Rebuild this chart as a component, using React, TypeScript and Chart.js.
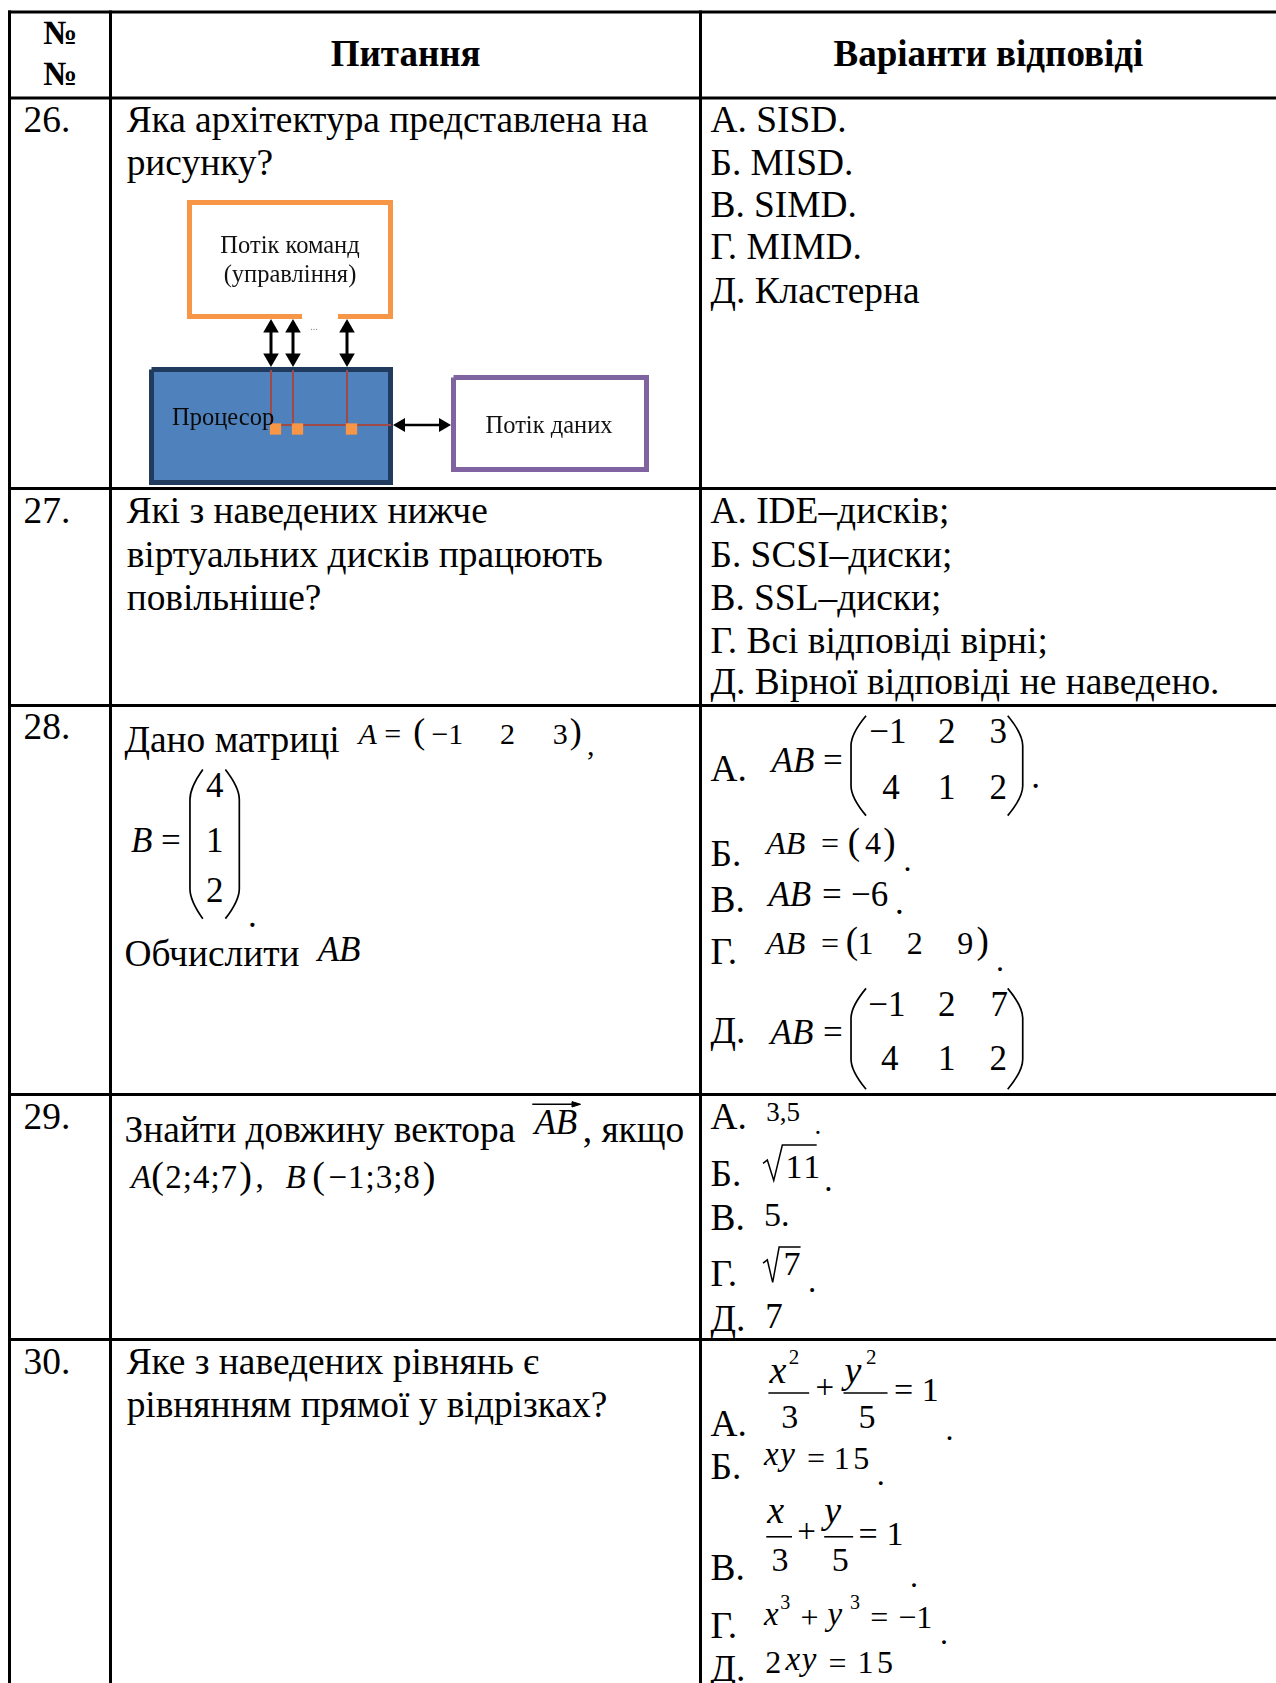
import React, { useEffect, useRef } from "react";
import { Chart, registerables } from "chart.js";
Chart.register(...registerables);

const K = 1276 / 1189;
const FONT = "'Liberation Serif', 'Times New Roman', serif";
const FS = 37.4;

// ---------- data ----------
const headerNo = ["№", "№"];
const headerCols = ["Питання", "Варіанти відповіді"];
const rowNumbers = ["26.", "27.", "28.", "29.", "30."];
const optionLetters = ["А.", "Б.", "В.", "Г.", "Д."];
const q26Question = ["Яка архітектура представлена на", "рисунку?"];
const q26Answers = ["SISD.", "MISD.", "SIMD.", "MIMD.", "Кластерна"];
const q27Question = ["Які з наведених нижче", "віртуальних дисків працюють", "повільніше?"];
const q27Answers = ["IDE–дисків;", "SCSI–диски;", "SSL–диски;", "Всі відповіді вірні;", "Вірної відповіді не наведено."];
const q28Question = ["Дано матриці", "Обчислити"];
const matrixA = [-1, 2, 3];
const matrixB = [4, 1, 2];
const q28AnswerA = [[-1, 2, 3], [4, 1, 2]];
const q28AnswerB = [4];
const q28AnswerC = [-6];
const q28AnswerD = [1, 2, 9];
const q28AnswerE = [[-1, 2, 7], [4, 1, 2]];
const q29Question = ["Знайти довжину вектора", ", якщо"];
const pointA = [2, 4, 7];
const pointB = [-1, 3, 8];
const q29Answers = ["3,5", "11", "5", "7", "7"];
const q30Question = ["Яке з наведених рівнянь є", "рівнянням прямої у відрізках?"];
const q30Denominators = [3, 5];
const q30Powers = [2, 3];
const q30AnswerB = 15;
const q30AnswerD = -1;
const q30AnswerE = 15;
const diagramLabels = ["Потік команд", "(управління)", "Процесор", "Потік даних", "..."];

const fmt = (n: number) => (n < 0 ? "−" + Math.abs(n) : String(n));

function T({ x, y, s = FS, i = false, b = false, c = false, ls = 0, children }: any) {
  return (
    <span
      style={{
        position: "absolute",
        left: x * K,
        top: y * K - s * 0.62,
        fontSize: s,
        lineHeight: 1.15,
        fontFamily: FONT,
        fontStyle: i ? "italic" : "normal",
        fontWeight: b ? 700 : 400,
        whiteSpace: "pre",
        letterSpacing: ls,
        transform: c ? "translateX(-50%)" : undefined,
        color: "#000",
      }}
    >
      {children}
    </span>
  );
}

function Diagram() {
  const ref = useRef<HTMLCanvasElement>(null);
  useEffect(() => {
    if (!ref.current) return;
    const W = 540, H = 300;
    const orange = "#F79646", blue = "#4F81BD", navy = "#203B5E", purple = "#8064A2", bus = "#A04A48";
    const rect = (x1: number, y1: number, x2: number, y2: number) => [
      { x: x1, y: y1 }, { x: x2, y: y1 }, { x: x2, y: y2 }, { x: x1, y: y2 }, { x: x1, y: y1 },
    ];
    const busX = [141, 163, 217];
    const base = { pointRadius: 0, fill: false, clip: false, tension: 0 };
    const datasets: any[] = [];
    datasets.push({ ...base, data: rect(21.5, 179.5, 260.5, 292.5), fill: "shape", backgroundColor: blue, borderColor: navy, borderWidth: 5, order: 10 });
    datasets.push({ ...base, data: [{ x: 208, y: 126.5 }, { x: 260.5, y: 126.5 }, { x: 260.5, y: 12.5 }, { x: 59.5, y: 12.5 }, { x: 59.5, y: 126.5 }, { x: 172, y: 126.5 }], borderColor: orange, borderWidth: 5, order: 9 });
    datasets.push({ ...base, data: rect(323.5, 187.5, 516.5, 279.5), borderColor: purple, borderWidth: 5, order: 9 });
    busX.forEach((bx) => datasets.push({ ...base, data: [{ x: bx, y: 180 }, { x: bx, y: 235 }], borderColor: bus, borderWidth: 2, order: 6 }));
    datasets.push({ ...base, data: [{ x: busX[0], y: 235 }, { x: 261, y: 235 }], borderColor: bus, borderWidth: 2, order: 6 });
    datasets.push({ ...base, data: busX.map((bx) => ({ x: bx + 4.5, y: 239 })), showLine: false, pointStyle: "rect", pointRadius: 8, pointBackgroundColor: orange, pointBorderColor: orange, pointBorderWidth: 0, order: 4 });
    busX.forEach((bx) => datasets.push({ ...base, data: [{ x: bx, y: 133 }, { x: bx, y: 173 }], borderColor: "#000", borderWidth: 3, order: 2 }));
    datasets.push({ ...base, data: [{ x: 268, y: 235 }, { x: 316, y: 235 }], borderColor: "#000", borderWidth: 2.5, order: 2 });
    const heads: any[] = [];
    busX.forEach((bx) => { heads.push({ x: bx, y: 138, r: 0, s: 9 }); heads.push({ x: bx, y: 168, r: 180, s: 9 }); });
    heads.push({ x: 271, y: 235, r: 270, s: 8 });
    heads.push({ x: 313, y: 235, r: 90, s: 8 });
    datasets.push({ ...base, data: heads.map((h) => ({ x: h.x, y: h.y })), showLine: false, pointStyle: "triangle", pointRotation: heads.map((h) => h.r), pointRadius: heads.map((h) => h.s), pointBackgroundColor: "#000", pointBorderColor: "#000", pointBorderWidth: 0, order: 1 });

    const labels = [
      { text: diagramLabels[0], x: 160, y: 57, size: 24.5, align: "center", color: "#111" },
      { text: diagramLabels[1], x: 160, y: 86, size: 24.5, align: "center", color: "#111" },
      { text: diagramLabels[2], x: 42, y: 229, size: 24.5, align: "left", color: "#0a0a0a" },
      { text: diagramLabels[3], x: 419, y: 237, size: 24.5, align: "center", color: "#111" },
      { text: diagramLabels[4], x: 184, y: 137, size: 10, align: "center", color: "#888" },
    ];
    const labelPlugin = {
      id: "diagramLabels",
      afterDatasetsDraw(chart: any) {
        const { ctx, scales } = chart;
        ctx.save();
        labels.forEach((l) => {
          ctx.font = `${l.size}px ${FONT}`;
          ctx.fillStyle = l.color;
          ctx.textAlign = l.align;
          ctx.textBaseline = "middle";
          ctx.fillText(l.text, scales.x.getPixelForValue(l.x), scales.y.getPixelForValue(l.y));
        });
        ctx.restore();
      },
    };

    const chart = new Chart(ref.current, {
      type: "line",
      data: { datasets },
      options: {
        responsive: false,
        animation: false,
        devicePixelRatio: 1,
        events: [],
        layout: { padding: 0, autoPadding: false },
        plugins: { legend: { display: false }, tooltip: { enabled: false } },
        scales: {
          x: { type: "linear", min: 0, max: W, display: false },
          y: { type: "linear", min: 0, max: H, reverse: true, display: false },
        },
      } as any,
      plugins: [labelPlugin as any],
    });
    return () => chart.destroy();
  }, []);
  return (
    <canvas ref={ref} width={540} height={300} style={{ position: "absolute", left: 130, top: 190, width: 540, height: 300 }} />
  );
}

export default function App() {
  let key = 0;
  const els: any[] = [];
  const t = (x: number, y: number, text: any, s: number = FS, o: any = {}) => {
    els.push(<T key={key++} x={x} y={y} s={s} {...o}>{text}</T>);
  };
  const paths: any[] = [];
  const pth = (d: string, w = 1.6, fill = "none") => paths.push(<path key={key++} d={d} stroke="#000" strokeWidth={w} fill={fill} />);
  const paren = (x1: number, x2: number, y1: number, y2: number, right = false) => {
    const X1 = x1 * K, X2 = x2 * K, Y1 = y1 * K, Y2 = y2 * K;
    const h = Y2 - Y1, c = Math.min(h * 0.3, 30);
    const outer = right ? X2 : X1, inner = right ? X1 : X2;
    pth(`M ${inner} ${Y1} Q ${outer} ${Y1 + c * 0.6} ${outer} ${Y1 + c} L ${outer} ${Y2 - c} Q ${outer} ${Y2 - c * 0.6} ${inner} ${Y2}`, 1.7);
  };
  const poly = (pts: number[][], w = 1.6) => pth("M " + pts.map((q) => `${q[0] * K} ${q[1] * K}`).join(" L "), w);
  const bar = (x1: number, x2: number, y: number) => poly([[x1, y], [x2, y]], 1.6);

  // header
  t(56, 32, headerNo[0], 34, { b: true, c: true });
  t(56, 70, headerNo[1], 34, { b: true, c: true });
  t(378, 52, headerCols[0], 37, { b: true, c: true });
  t(921, 52, headerCols[1], 37, { b: true, c: true });

  // row numbers
  [113, 477, 679, 1042, 1270].forEach((y, i) => t(22, y, rowNumbers[i]));

  // Q26
  q26Question.forEach((s, i) => t(118, 113 + i * 40, s));
  [113, 153, 192, 231, 272].forEach((y, i) => t(662, y, `${optionLetters[i]} ${q26Answers[i]}`));

  // Q27
  [477, 518, 558].forEach((y, i) => t(118, y, q27Question[i]));
  [477, 518, 558, 598, 637].forEach((y, i) => t(662, y, `${optionLetters[i]} ${q27Answers[i]}`));

  // Q28 question
  t(116, 691, q28Question[0]);
  t(334, 685, "A", 30, { i: true });
  t(358, 685, "=", 30);
  t(385, 683, "(", 36);
  [402, 466, 515].forEach((x, i) => t(x, 685, fmt(matrixA[i]), 30));
  t(531, 683, ")", 36);
  t(547, 696, ",", 30);
  t(122, 785, "B", 35, { i: true });
  t(150, 785, "=", 35);
  paren(177, 189, 717, 856);
  [734, 785, 832].forEach((y, i) => t(200, y, fmt(matrixB[i]), 35, { c: true }));
  paren(210, 223, 717, 856, true);
  t(231, 855, ".", 35);
  t(116, 890, q28Question[1]);
  t(296, 887, "AB", 35, { i: true });

  // Q28 answers
  [718, 797, 840, 888, 962].forEach((y, i) => t(662, y, optionLetters[i]));
  // A
  t(719, 711, "AB", 35, { i: true });
  t(767, 711, "=", 35);
  paren(793, 807, 667, 760);
  [[810, 874, 922], [822, 874, 922]].forEach((xs, r) => xs.forEach((x, c) => t(x, r === 0 ? 684 : 736, fmt(q28AnswerA[r][c]), 35)));
  paren(939, 953, 667, 760, true);
  t(961, 726, ".", 35);
  // Б
  t(714, 787, "AB", 32, { i: true });
  t(765, 787, "=", 32);
  t(790, 786, "(", 37);
  t(806, 787, fmt(q28AnswerB[0]), 32);
  t(823, 786, ")", 37);
  t(842, 803, ".", 32);
  // В
  t(716, 836, "AB", 35, { i: true });
  t(766, 836, "=", 35);
  t(793, 836, fmt(q28AnswerC[0]), 35);
  t(834, 843, ".", 35);
  // Г
  t(714, 880, "AB", 32, { i: true });
  t(765, 880, "=", 32);
  t(788, 879, "(", 37);
  [799, 845, 892].forEach((x, i) => t(x, 880, fmt(q28AnswerD[i]), 32));
  t(910, 879, ")", 37);
  t(928, 896, ".", 32);
  // Д
  t(718, 964, "AB", 35, { i: true });
  t(767, 964, "=", 35);
  paren(793, 807, 921, 1015);
  [[809, 874, 923], [821, 874, 922]].forEach((xs, r) => xs.forEach((x, c) => t(x, r === 0 ? 938 : 988, fmt(q28AnswerE[r][c]), 35)));
  paren(939, 953, 921, 1015, true);

  // Q29 question
  t(116, 1054, q29Question[0]);
  t(498, 1048, "AB", 35, { i: true });
  poly([[496, 1029], [539, 1029]], 1.4);
  pth(`M ${541 * K} ${1029 * K} L ${533 * K} ${1026.5 * K} L ${533 * K} ${1031.5 * K} Z`, 1, "#000");
  t(543, 1054, q29Question[1]);
  t(122, 1099, "A", 33, { i: true });
  t(141, 1097, "(", 38);
  t(154, 1099, pointA.map(fmt).join(";"), 33, { ls: 1 });
  t(223, 1097, ")", 38);
  t(238, 1099, ",", 33);
  t(266, 1099, "B", 33, { i: true });
  t(291, 1097, "(", 38);
  t(306, 1099, pointB.map(fmt).join(";"), 33, { ls: 1 });
  t(394, 1097, ")", 38);

  // Q29 answers
  [1042, 1095, 1136, 1188, 1230].forEach((y, i) => t(662, y, optionLetters[i]));
  t(714, 1038, q29Answers[0], 27);
  t(759, 1050, ".", 27);
  poly([[711, 1084], [715, 1081], [721, 1100], [729, 1067], [761, 1067]], 1.5);
  t(732, 1088, q29Answers[1], 34, { ls: 2 });
  t(768, 1102, ".", 33);
  t(712, 1133, q29Answers[2] + ".", 34);
  poly([[711, 1177], [715, 1174], [720, 1195], [726, 1162], [746, 1162]], 1.5);
  t(730, 1179, q29Answers[3], 34);
  t(753, 1196, ".", 33);
  t(713, 1229, q29Answers[4], 35);

  // Q30 question
  [1270, 1310].forEach((y, i) => t(118, y, q30Question[i]));

  // Q30 answers
  [1328, 1368, 1462, 1516, 1556].forEach((y, i) => t(662, y, optionLetters[i]));
  // A
  t(717, 1279, "x", 38, { i: true });
  t(735, 1265, String(q30Powers[0]), 21);
  bar(716, 754, 1298);
  t(728, 1321, String(q30Denominators[0]), 34);
  t(760, 1295, "+", 33);
  t(787, 1279, "y", 38, { i: true });
  t(807, 1265, String(q30Powers[0]), 21);
  bar(786, 827, 1298);
  t(800, 1321, String(q30Denominators[1]), 34);
  t(833, 1296, "=", 34);
  t(859, 1296, "1", 34);
  t(881, 1333, ".", 32);
  // Б
  t(712, 1357, "x", 33, { i: true });
  t(727, 1357, "y", 33, { i: true });
  t(752, 1360, "=", 32);
  t(777, 1360, String(q30AnswerB), 32, { ls: 3.5 });
  t(817, 1375, ".", 32);
  // В
  t(715, 1409, "x", 38, { i: true });
  bar(714, 738, 1432);
  t(719, 1455, String(q30Denominators[0]), 34);
  t(743, 1429, "+", 33);
  t(768, 1409, "y", 38, { i: true });
  bar(768, 795, 1432);
  t(775, 1455, String(q30Denominators[1]), 34);
  t(800, 1430, "=", 34);
  t(826, 1430, "1", 34);
  t(848, 1470, ".", 32);
  // Г
  t(712, 1506, "x", 33, { i: true });
  t(727, 1494, String(q30Powers[1]), 20);
  t(746, 1508, "+", 32);
  t(771, 1506, "y", 33, { i: true });
  t(792, 1494, String(q30Powers[1]), 20);
  t(811, 1508, "=", 32);
  t(837, 1508, fmt(q30AnswerD), 32);
  t(876, 1523, ".", 32);
  // Д
  t(713, 1550, "2", 32);
  t(732, 1548, "x", 33, { i: true });
  t(747, 1548, "y", 33, { i: true });
  t(772, 1551, "=", 32);
  t(799, 1550, String(q30AnswerE), 32, { ls: 3.5 });

  // table lines (full coords)
  const L = 3;
  const hy = [12, 98, 488.5, 705.5, 1094.5, 1339.5];
  const vx = [9.5, 110.5, 700.5];
  const rects: any[] = [];
  hy.forEach((y) => rects.push(<rect key={key++} x={8} y={y - L / 2} width={1276} height={L} fill="#000" />));
  vx.forEach((x) => rects.push(<rect key={key++} x={x - L / 2} y={10.5} width={L} height={1683} fill="#000" />));

  return (
    <div style={{ position: "absolute", left: 0, top: 0, width: 1276, height: 1683, overflow: "hidden", background: "#fff", fontFamily: FONT }}>
      <svg width={1276} height={1683} style={{ position: "absolute", left: 0, top: 0 }}>
        {rects}
        {paths}
      </svg>
      {els}
      <Diagram />
    </div>
  );
}
